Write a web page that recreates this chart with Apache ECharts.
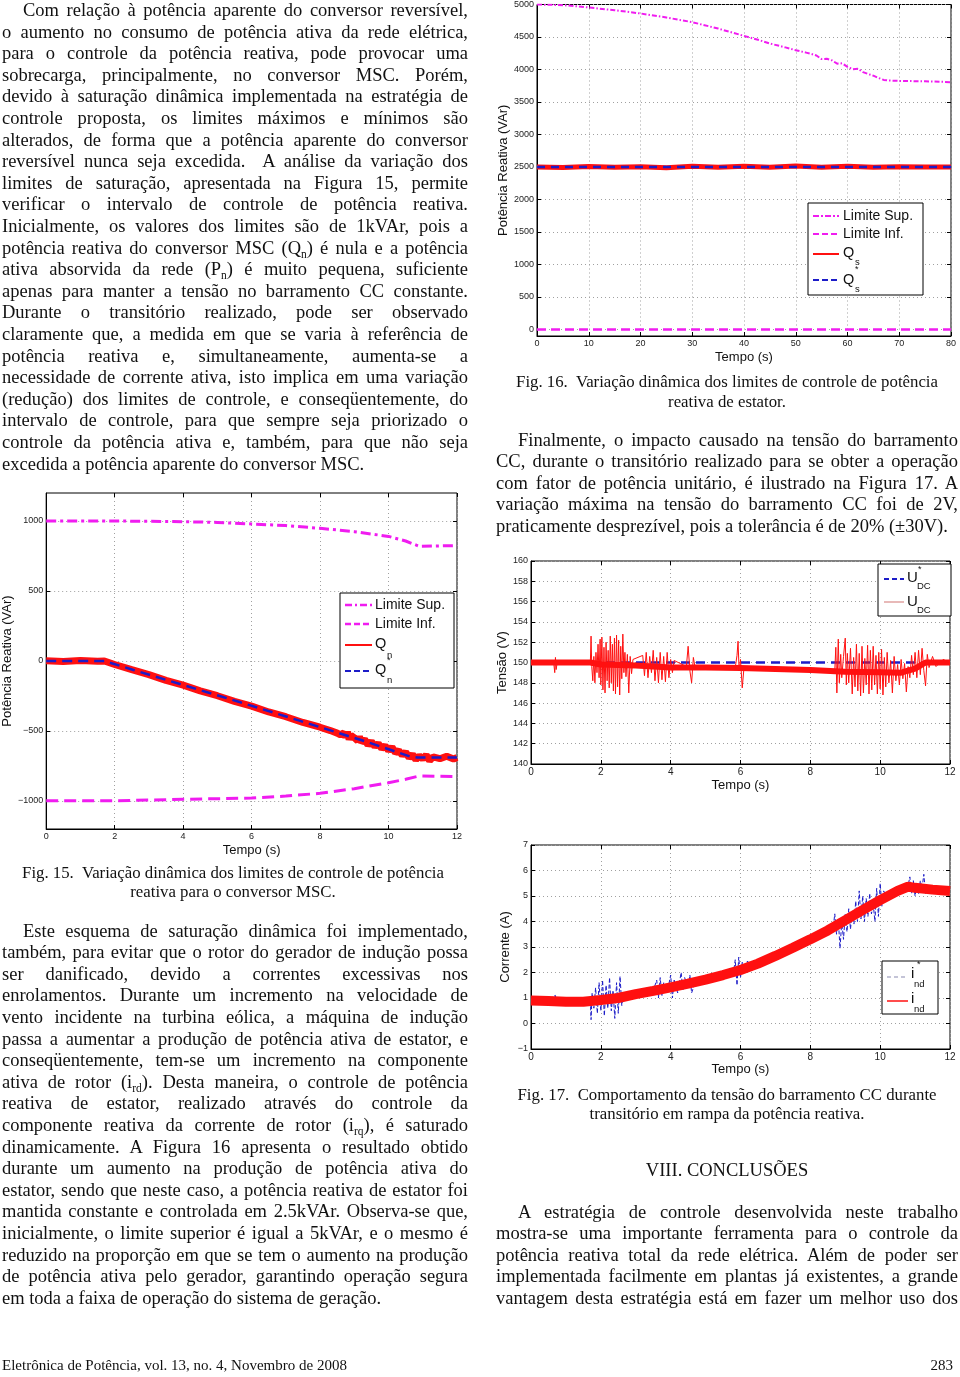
<!DOCTYPE html>
<html><head><meta charset="utf-8">
<script src="https://cdn.jsdelivr.net/npm/echarts@6/dist/echarts.min.js"></script>
<style>
html,body{margin:0;padding:0;background:#fff;}
#page{position:relative;width:960px;height:1377px;overflow:hidden;background:#fff;}
#chart{position:absolute;left:0;top:0;width:960px;height:1377px;}
.t{position:absolute;font-family:"Liberation Serif","Times New Roman",serif;font-size:18.5px;line-height:21.6px;color:#111;white-space:pre;z-index:5;}
.cap{position:absolute;font-family:"Liberation Serif","Times New Roman",serif;font-size:16.8px;line-height:19px;color:#111;white-space:pre;transform:translateX(-50%);z-index:5;}
.foot{position:absolute;font-family:"Liberation Serif","Times New Roman",serif;font-size:15px;line-height:17px;color:#111;white-space:pre;z-index:5;}
sub{font-size:0.62em;vertical-align:baseline;position:relative;top:0.35em;line-height:0;}
</style></head>
<body><div id="page"><div id="chart"></div></div>
<script>
// ---------- Fig. 15 data (MSC converter reactive power, VAr) ----------
const fig15XTicks = [0, 2, 4, 6, 8, 10, 12];
const fig15YTicks = [-1000, -500, 0, 500, 1000];
const fig15LimSup = [[0,1000],[2,1000],[4,995],[5,990],[6,979],[7,967],[8,948],[9,924],[10,890],[10.5,857],[10.9,819],[11.5,822],[12,824]];
const fig15LimInf = [[0,-998],[2,-998],[4,-988],[6,-979],[7,-965],[8,-945],[9,-912],[10,-869],[10.5,-845],[10.9,-821],[11.5,-824],[12,-826]];
const fig15Qn = [[0,2],[0.5,-3],[1,3],[1.5,-2],[1.7,0],[2,-25],[2.5,-62],[3,-97],[3.5,-138],[4,-172],[4.5,-213],[5,-248],[5.5,-288],[6,-322],[6.5,-364],[7,-398],[7.5,-439],[8,-473],[8.3,-497],[8.5,-515],[8.6,-528],[8.7,-512],[8.75,-545],[8.8,-505],[8.85,-560],[8.9,-530],[9.0,-548],[9.1,-570],[9.15,-540],[9.2,-580],[9.3,-560],[9.4,-600],[9.5,-575],[9.6,-610],[9.7,-590],[9.8,-625],[9.9,-605],[10.0,-640],[10.1,-615],[10.2,-655],[10.3,-640],[10.4,-672],[10.5,-650],[10.6,-690],[10.7,-668],[10.8,-705],[10.9,-678],[11.0,-700],[11.1,-672],[11.2,-712],[11.3,-685],[11.5,-698],[11.7,-680],[11.9,-700],[12,-690]];
const fig15QnRef = [[0,0],[1.7,0],[2.55,-64],[5.67,-295],[7.42,-428],[8.4,-503],[9.37,-578],[10.64,-683],[10.85,-690],[12,-690]];

// ---------- Fig. 16 data (stator reactive power, VAr) ----------
const fig16XTicks = [0, 10, 20, 30, 40, 50, 60, 70, 80];
const fig16YTicks = [0, 500, 1000, 1500, 2000, 2500, 3000, 3500, 4000, 4500, 5000];
const fig16LimSup = [[0,5000],[3,4995],[6,4985],[10,4954],[15,4912],[20,4862],[25,4800],[30,4728],[35,4630],[40,4517],[43,4450],[45,4400],[48,4340],[50,4297],[52,4260],[53,4240],[54,4215],[55,4160],[56,4165],[57,4140],[58,4090],[59,4095],[60,4040],[61,4005],[62,4010],[63,3960],[64,3930],[65,3905],[66,3870],[67,3840],[68,3830],[70,3825],[72,3822],[75,3818],[78,3812],[80,3805]];
const fig16LimInf = [[0,0],[80,0]];
const fig16Qs = [[0,2500],[5,2492],[10,2508],[15,2495],[20,2505],[25,2490],[30,2510],[35,2498],[40,2512],[45,2495],[50,2515],[55,2497],[60,2510],[65,2495],[70,2505],[75,2500],[80,2500]];
const fig16QsRef = [[0,2500],[80,2500]];

// ---------- Fig. 17 data (DC bus voltage and current) ----------
const fig17XTicks = [0, 2, 4, 6, 8, 10, 12];
const fig17aYTicks = [140, 142, 144, 146, 148, 150, 152, 154, 156, 158, 160];
const fig17bYTicks = [-1, 0, 1, 2, 3, 4, 5, 6, 7];
const fig17UdcRef = [[0,150],[12,150]];
const fig17UdcBand = [[0,150],[1,150],[1.7,150],[2,149.8],[3,149.7],[4,149.5],[5,149.5],[6,149.45],[7,149.35],[8,149.25],[9,149.1],[10,149.05],[10.6,149.0],[11,149.4],[11.3,150],[12,150]];
const fig17UdcSpikes = [[0,150],[0.65,150],[0.68,149.0],[0.70,150.5],[0.72,149.3],[0.75,150],[1.70,150],[1.72,152.6],[1.74,149.6],[1.77,148.2],[1.80,150.6],[1.83,148.0],[1.86,151.0],[1.89,149.0],[1.92,151.8],[1.95,148.5],[1.98,152.3],[2.00,147.8],[2.03,152.5],[2.06,147.3],[2.09,151.5],[2.12,147.0],[2.15,152.0],[2.18,148.2],[2.21,151.2],[2.24,147.5],[2.27,152.6],[2.30,148.0],[2.33,151.8],[2.36,147.2],[2.39,152.4],[2.42,146.9],[2.45,152.7],[2.48,147.6],[2.51,152.2],[2.54,146.8],[2.57,151.6],[2.60,148.4],[2.63,152.8],[2.66,149.0],[2.69,151.0],[2.72,148.6],[2.76,150.8],[2.80,147.0],[2.84,150.6],[2.88,148.9],[2.92,150.3],[3.2,150.7],[3.25,148.7],[3.3,151.0],[3.35,148.5],[3.4,150.6],[3.45,149.0],[3.5,151.2],[3.55,148.2],[3.6,150.5],[3.65,148.0],[3.7,151.0],[3.75,148.3],[3.8,150.6],[3.85,148.1],[3.9,151.0],[3.95,148.5],[4.0,150.3],[4.05,149.0],[4.1,150.2],[4.45,149.6],[4.5,151.6],[4.55,149.2],[4.6,148.0],[4.65,150.5],[4.7,149.5],[5.85,149.5],[5.9,150.7],[5.93,152.1],[5.96,149.2],[6.0,150.3],[6.05,147.5],[6.1,149.5],[8.70,149.2],[8.73,151.5],[8.76,147.0],[8.80,152.3],[8.83,148.0],[8.87,150.8],[8.9,148.5],[8.95,150.6],[9.0,152.4],[9.03,147.8],[9.06,150.9],[9.1,148.0],[9.15,151.4],[9.2,146.9],[9.24,150.5],[9.28,147.6],[9.32,151.8],[9.36,147.2],[9.4,150.9],[9.44,146.7],[9.48,151.6],[9.52,147.0],[9.56,150.4],[9.6,147.8],[9.64,151.7],[9.68,146.9],[9.72,151.2],[9.76,147.3],[9.8,151.6],[9.84,147.8],[9.88,150.7],[9.92,146.9],[9.96,151.0],[10.0,147.4],[10.04,151.3],[10.08,146.8],[10.12,150.5],[10.16,147.6],[10.2,151.0],[10.25,148.0],[10.3,150.2],[10.35,147.0],[10.4,150.6],[10.45,148.2],[10.5,149.8],[10.55,147.8],[10.6,150.3],[10.65,148.4],[10.7,149.9],[10.75,147.1],[10.8,149.6],[10.85,148.5],[10.9,150.7],[10.95,148.8],[11.0,151.0],[11.05,148.5],[11.1,151.2],[11.15,148.8],[11.2,151.4],[11.25,149.2],[11.3,147.7],[11.35,150.8],[11.4,149.5],[11.5,150.6],[11.6,149.6],[11.8,150.3],[12,150]];
const fig17IndRef = [[0,0.9],[0.5,0.95],[0.7,1.1],[0.72,0.85],[1.5,0.85],[1.7,0.9],[1.72,0.15],[1.75,1.2],[1.8,0.6],[1.85,1.4],[1.9,0.4],[1.95,1.6],[2.0,0.5],[2.05,1.7],[2.1,0.3],[2.15,1.5],[2.2,0.6],[2.25,1.8],[2.3,0.5],[2.35,1.3],[2.4,0.2],[2.45,1.6],[2.5,0.4],[2.55,1.85],[2.6,0.7],[2.65,1.2],[2.7,0.9],[2.8,1.1],[3.0,1.15],[3.5,1.28],[3.6,1.7],[3.65,1.0],[3.7,1.8],[3.75,1.1],[3.8,1.6],[3.9,1.2],[4.0,1.9],[4.05,1.0],[4.1,1.7],[4.2,1.2],[4.3,2.0],[4.35,1.3],[4.4,1.8],[4.5,1.4],[4.55,1.9],[4.6,1.2],[4.7,1.6],[5.0,1.72],[5.5,1.9],[5.8,2.0],[5.85,2.5],[5.9,1.5],[5.95,2.6],[6.0,1.8],[6.05,2.4],[6.1,2.0],[6.2,2.45],[6.3,2.2],[6.5,2.35],[7,2.65],[8,3.3],[8.5,3.65],[8.65,3.7],[8.7,4.3],[8.75,3.5],[8.8,4.1],[8.85,2.95],[8.9,4.0],[8.95,3.3],[9.0,4.3],[9.05,3.6],[9.1,4.5],[9.15,3.7],[9.2,4.4],[9.25,3.9],[9.3,4.8],[9.35,4.0],[9.4,5.2],[9.45,4.1],[9.5,5.0],[9.55,4.0],[9.6,4.9],[9.65,4.2],[9.7,5.1],[9.75,4.3],[9.8,4.7],[9.85,4.0],[9.9,5.3],[9.95,4.2],[10.0,5.5],[10.05,4.6],[10.1,5.2],[10.2,4.9],[10.5,5.2],[10.8,5.4],[10.85,5.75],[10.9,5.1],[10.95,5.6],[11.0,5.0],[11.05,5.5],[11.1,5.1],[11.15,5.6],[11.2,5.3],[11.25,5.85],[11.3,5.1],[11.4,5.4],[11.5,5.25],[12,5.2]];
const fig17Ind = [[0,0.9],[0.5,0.88],[1,0.85],[1.5,0.85],[2,0.92],[2.5,1.0],[3,1.15],[3.5,1.28],[4,1.42],[4.5,1.56],[5,1.72],[5.5,1.9],[6,2.1],[6.5,2.35],[7,2.65],[7.5,2.97],[8,3.3],[8.5,3.65],[9,4.05],[9.5,4.45],[10,4.84],[10.5,5.2],[10.8,5.37],[11,5.32],[11.5,5.25],[12,5.2]];

// ---------- Page text ----------
const paraLeftTop = [
 'Com relação à potência aparente do conversor reversível,',
 'o aumento no consumo de potência ativa da rede elétrica,',
 'para o controle da potência reativa, pode provocar uma',
 'sobrecarga, principalmente, no conversor MSC. Porém,',
 'devido à saturação dinâmica implementada na estratégia de',
 'controle proposta, os limites máximos e mínimos são',
 'alterados, de forma que a potência aparente do conversor',
 'reversível nunca seja excedida.  A análise da variação dos',
 'limites de saturação, apresentada na Figura 15, permite',
 'verificar o intervalo de controle de potência reativa.',
 'Inicialmente, os valores dos limites são de 1kVAr, pois a',
 'potência reativa do conversor MSC (Q<sub>n</sub>) é nula e a potência',
 'ativa absorvida da rede (P<sub>n</sub>) é muito pequena, suficiente',
 'apenas para manter a tensão no barramento CC constante.',
 'Durante o transitório realizado, pode ser observado',
 'claramente que, a medida em que se varia à referência de',
 'potência reativa e, simultaneamente, aumenta-se a',
 'necessidade de corrente ativa, isto implica em uma variação',
 '(redução) dos limites de controle, e conseqüentemente, do',
 'intervalo de controle, para que sempre seja priorizado o',
 'controle da potência ativa e, também, para que não seja',
 'excedida a potência aparente do conversor MSC.'
];
const paraLeftBottom = [
 'Este esquema de saturação dinâmica foi implementado,',
 'também, para evitar que o rotor do gerador de indução possa',
 'ser danificado, devido a correntes excessivas nos',
 'enrolamentos. Durante um incremento na velocidade de',
 'vento incidente na turbina eólica, a máquina de indução',
 'passa a aumentar a produção de potência ativa de estator, e',
 'conseqüentemente, tem-se um incremento na componente',
 'ativa de rotor (i<sub>rd</sub>). Desta maneira, o controle de potência',
 'reativa de estator, realizado através do controle da',
 'componente reativa da corrente de rotor (i<sub>rq</sub>), é saturado',
 'dinamicamente. A Figura 16 apresenta o resultado obtido',
 'durante um aumento na produção de potência ativa do',
 'estator, sendo que neste caso, a potência reativa de estator foi',
 'mantida constante e controlada em 2.5kVAr. Observa-se que,',
 'inicialmente, o limite superior é igual a 5kVAr, e o mesmo é',
 'reduzido na proporção em que se tem o aumento na produção',
 'de potência ativa pelo gerador, garantindo operação segura',
 'em toda a faixa de operação do sistema de geração.'
];
const paraRightTop = [
 'Finalmente, o impacto causado na tensão do barramento',
 'CC, durante o transitório realizado para se obter a operação',
 'com fator de potência unitário, é ilustrado na Figura 17. A',
 'variação máxima na tensão do barramento CC foi de 2V,',
 'praticamente desprezível, pois a tolerância é de 20% (±30V).'
];
const paraRightBottom = [
 'A estratégia de controle desenvolvida neste trabalho',
 'mostra-se uma importante ferramenta para o controle da',
 'potência reativa total da rede elétrica. Além de poder ser',
 'implementada facilmente em plantas já existentes, a grande',
 'vantagem desta estratégia está em fazer um melhor uso dos'
];

const page = document.getElementById('page');
const LH = 21.6;
function addPara(lines, x, top, width, indent, lastJust){
  lines.forEach((html, i) => {
    const d = document.createElement('div');
    d.className = 't';
    const ind = i === 0 ? indent : 0;
    d.style.left = (x + ind) + 'px';
    d.style.top = (top + i * LH) + 'px';
    d.innerHTML = html;
    page.appendChild(d);
    if (i < lines.length - 1 || lastJust) {
      const target = width - ind;
      const nat = d.getBoundingClientRect().width;
      const n = (d.textContent.match(/ /g) || []).length;
      if (n) d.style.wordSpacing = ((target - nat) / n) + 'px';
    }
  });
}
addPara(paraLeftTop, 2, 0, 466, 21, false);
addPara(paraLeftBottom, 2, 920.5, 466, 21, false);
addPara(paraRightTop, 496, 429.5, 462, 22, false);
addPara(paraRightBottom, 496, 1201.5, 462, 22, true);

function addCap(text, cx, top, cls){
  const d = document.createElement('div');
  d.className = cls || 'cap';
  d.style.left = cx + 'px'; d.style.top = top + 'px';
  d.innerHTML = text; page.appendChild(d);
  return d;
}
addCap('Fig. 15.  Variação dinâmica dos limites de controle de potência', 233, 862.5);
addCap('reativa para o conversor MSC.', 233, 882);
addCap('Fig. 16.  Variação dinâmica dos limites de controle de potência', 727, 371.5);
addCap('reativa de estator.', 727, 391.5);
addCap('Fig. 17.  Comportamento da tensão do barramento CC durante', 727, 1085);
addCap('transitório em rampa da potência reativa.', 727, 1104);
const h = addCap('VIII. CONCLUSÕES', 727, 1160);
h.style.fontSize = '18.5px'; h.style.lineHeight = '21.6px';
const f1 = document.createElement('div'); f1.className = 'foot';
f1.style.left = '2px'; f1.style.top = '1357px';
f1.textContent = 'Eletrônica de Potência, vol. 13, no. 4, Novembro de 2008';
page.appendChild(f1);
const f2 = document.createElement('div'); f2.className = 'foot';
f2.style.right = '7px'; f2.style.top = '1357px'; f2.textContent = '283';
page.appendChild(f2);

// ---------- Charts ----------
const F = 'Liberation Sans, Arial, sans-serif';
const MAG = '#f01cf0', RED = '#ff1010', BLUE = '#1c1cc8';
const fmt = v => String(v).replace('-', '\u2212');
function grid(left, top, width, height){
  return {left, top, width, height, containLabel: false, show: true, borderColor: '#000', borderWidth: 1, backgroundColor: '#fff'};
}
function axis(kind, gi, min, max, ticks, opts, labelSize){
  const o = Object.assign({
    type: 'value', gridIndex: gi, min, max,
    nameLocation: 'middle',
    nameTextStyle: {fontSize: 13, fontFamily: F, color: '#111'},
    axisLine: {show: true, onZero: false, lineStyle: {color: '#000', width: 1}},
    axisTick: {show: true, inside: true, length: 4, customValues: ticks, lineStyle: {color: '#000'}},
    axisLabel: {fontSize: labelSize || 9, fontFamily: F, color: '#222', margin: 3, customValues: ticks, formatter: fmt},
    splitLine: {show: true, lineStyle: {color: '#a0a0a0', type: [1, 3], width: 1}}
  }, opts || {});
  if (kind === 'y') o.nameRotate = 90;
  return o;
}
// mirrored tick marks on the top / right border (MATLAB box style)
function mirror(kind, gi, min, max, ticks, opts){
  return Object.assign({
    type: 'value', gridIndex: gi, min, max, position: kind === 'x' ? 'top' : 'right',
    axisLine: {show: false, onZero: false},
    axisTick: {show: true, inside: true, length: 4, customValues: ticks, lineStyle: {color: '#000'}},
    axisLabel: {show: false}, splitLine: {show: false}
  }, opts || {});
}
function ser(name, gi, data, color, width, type, z){
  return {name, type: 'line', xAxisIndex: gi, yAxisIndex: gi, data, symbol: 'none', showSymbol: false,
    smooth: false, animation: false, z: z || 2, lineStyle: {color, width, type: type || 'solid'}};
}

const G = [];
function leg(x, y, w, hh){ G.push({type: 'rect', shape: {x, y, width: w, height: hh}, style: {fill: '#fff', stroke: '#000', lineWidth: 1}, z: 100}); }
function lline(x1, x2, y, color, width, dash){ G.push({type: 'line', shape: {x1, y1: y, x2, y2: y}, style: {stroke: color, lineWidth: width, lineDash: dash || null}, z: 101}); }
function ltext(x, y, text, size){ G.push({type: 'text', x, y, style: {text, fontSize: size, fontFamily: F, fill: '#111', verticalAlign: 'middle', align: 'left'}, z: 102}); }

// Fig 15 legend
leg(340, 593, 114, 95);
lline(345, 372, 605, MAG, 2.5, [7, 3, 2, 3]); ltext(375, 605, 'Limite Sup.', 14);
lline(345, 372, 624, MAG, 2.5, [6, 3]); ltext(375, 624, 'Limite Inf.', 14);
lline(345, 372, 645, RED, 2); ltext(375, 644, 'Q', 14.5); ltext(387, 655, 'n', 9.5);
lline(345, 372, 671, BLUE, 2, [6, 3]); ltext(375, 670, 'Q', 14.5); ltext(387, 661, '*', 9); ltext(387, 680, 'n', 9.5);
// Fig 16 legend
leg(808, 203, 115, 92);
lline(813, 839, 216, MAG, 2, [6, 2, 2, 2]); ltext(843, 216, 'Limite Sup.', 14);
lline(813, 839, 234, MAG, 2, [6, 3]); ltext(843, 234, 'Limite Inf.', 14);
lline(813, 839, 254, RED, 2); ltext(843, 253, 'Q', 14.5); ltext(855, 262, 's', 9.5);
lline(813, 839, 280, BLUE, 2, [6, 3]); ltext(843, 280, 'Q', 14.5); ltext(855, 270, '*', 9); ltext(855, 289, 's', 9.5);
// Fig 17a legend
leg(878, 564, 73, 52);
lline(884, 904, 579, BLUE, 2, [5, 3]); ltext(907, 578, 'U', 15); ltext(918, 570, '*', 9); ltext(917, 586, 'DC', 9.5);
lline(884, 904, 602, '#d98a88', 1.2); ltext(907, 602, 'U', 15); ltext(917, 610, 'DC', 9.5);
// Fig 17b legend
leg(882, 961, 56, 53);
lline(887, 908, 977, '#8a8ab0', 1.2, [4, 3]); ltext(911, 974, 'i', 15); ltext(917, 965, '*', 9); ltext(914, 984, 'nd', 9.5);
lline(887, 908, 1001, RED, 1.5); ltext(911, 999, 'i', 15); ltext(914, 1009, 'nd', 9.5);

const option = {
  animation: false,
  backgroundColor: 'transparent',
  textStyle: {fontFamily: F},
  grid: [grid(46, 493, 411, 336), grid(537, 4, 414, 332), grid(531, 561, 419, 203), grid(531, 845, 419, 204)],
  xAxis: [
    axis('x', 0, 0, 12, fig15XTicks, {interval: 2, name: 'Tempo (s)', nameGap: 15}),
    axis('x', 1, 0, 80, fig16XTicks, {interval: 10, name: 'Tempo (s)', nameGap: 15}),
    axis('x', 2, 0, 12, fig17XTicks, {interval: 2, name: 'Tempo (s)', nameGap: 15}, 10),
    axis('x', 3, 0, 12, fig17XTicks, {interval: 2, name: 'Tempo (s)', nameGap: 13}, 10),
    mirror('x', 0, 0, 12, fig15XTicks, {interval: 2}),
    mirror('x', 1, 0, 80, fig16XTicks, {interval: 10}),
    mirror('x', 2, 0, 12, fig17XTicks, {interval: 2}),
    mirror('x', 3, 0, 12, fig17XTicks, {interval: 2})
  ],
  yAxis: [
    axis('y', 0, -1200, 1200, fig15YTicks, {splitNumber: 5, name: 'Potência Reativa (VAr)', nameGap: 30}),
    axis('y', 1, -100, 5000, fig16YTicks, {splitNumber: 10, name: 'Potência Reativa (VAr)', nameGap: 27}),
    axis('y', 2, 140, 160, fig17aYTicks, {interval: 2, name: 'Tensão (V)', nameGap: 20}),
    axis('y', 3, -1, 7, fig17bYTicks, {interval: 1, name: 'Corrente (A)', nameGap: 19}),
    mirror('y', 0, -1200, 1200, fig15YTicks, {splitNumber: 5}),
    mirror('y', 1, -100, 5000, fig16YTicks, {splitNumber: 10}),
    mirror('y', 2, 140, 160, fig17aYTicks, {interval: 2}),
    mirror('y', 3, -1, 7, fig17bYTicks, {interval: 1})
  ],
  series: [
    ser('Limite Sup.', 0, fig15LimSup, MAG, 3, [10, 4, 3, 4]),
    ser('Limite Inf.', 0, fig15LimInf, MAG, 3, [12, 6]),
    ser('Qn', 0, fig15Qn, RED, 7),
    ser('Qn*', 0, fig15QnRef, BLUE, 2.5, [10, 6], 3),
    ser('Limite Sup. (Qs)', 1, fig16LimSup, MAG, 2, [5, 2, 1.5, 2]),
    ser('Limite Inf. (Qs)', 1, fig16LimInf, MAG, 2.5, [9, 5]),
    ser('Qs', 1, fig16Qs, RED, 5),
    ser('Qs*', 1, fig16QsRef, BLUE, 2.5, [8, 6], 3),
    ser('UDC*', 2, fig17UdcRef, BLUE, 2.5, [9, 6]),
    ser('UDC', 2, fig17UdcBand, RED, 6, 'solid', 3),
    ser('UDC spikes', 2, fig17UdcSpikes, RED, 1, 'solid', 3),
    ser('ind*', 3, fig17IndRef, BLUE, 1, [4, 2]),
    ser('ind', 3, fig17Ind, RED, 10, 'solid', 3)
  ],
  graphic: {elements: G}
};
const chart = echarts.init(document.getElementById('chart'), null, {renderer: 'canvas'});
chart.setOption(option);
</script>
</body></html>
